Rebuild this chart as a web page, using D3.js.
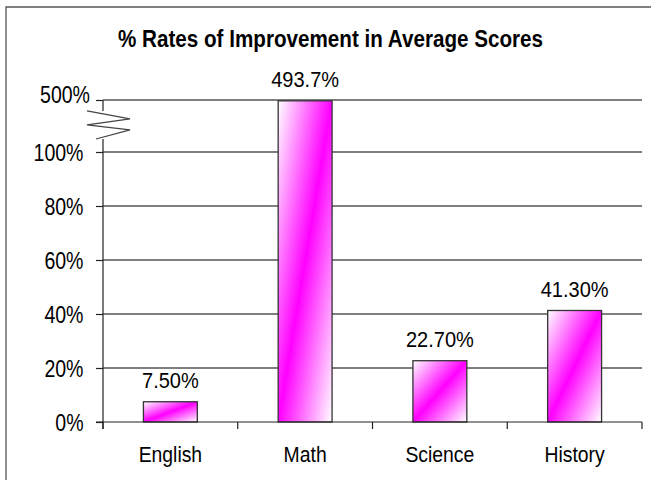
<!DOCTYPE html>
<html>
<head>
<meta charset="utf-8">
<script src="https://cdn.jsdelivr.net/npm/d3@7"></script>
<style>
  html, body { margin: 0; padding: 0; background: #fff; }
  svg { display: block; }
  text { font-family: "Liberation Sans", Arial, sans-serif; fill: #000; }
</style>
</head>
<body>
<svg id="chart" width="651" height="480"></svg>
<script>
// ---- data ----
const categories = ["English", "Math", "Science", "History"];
const values = [7.5, 493.7, 22.7, 41.3];
const valueLabels = ["7.50%", "493.7%", "22.70%", "41.30%"];
const yTicks = [0, 20, 40, 60, 80, 100, 500];
const yTickLabels = ["0%", "20%", "40%", "60%", "80%", "100%", "500%"];
const chartTitle = "% Rates of Improvement in Average Scores";

// ---- layout ----
const W = 651, H = 480;
const plot = { left: 103, right: 642, top: 100, bottom: 422 };
const svg = d3.select("#chart");

// text helper: narrow-looking (condensed) text as in the reference
function placeText(sel, fx, fy, size, sx) {
  return sel.attr("x", 0).attr("y", 0)
    .attr("transform", (d, i) => `translate(${fx(d, i)},${fy(d, i)}) scale(${sx},1)`)
    .style("font-size", size + "px");
}

// gradient fill
const defs = svg.append("defs");
const grad = defs.append("linearGradient").attr("id", "barGrad")
  .attr("x1", 0).attr("y1", 0).attr("x2", 1).attr("y2", 1);
grad.append("stop").attr("offset", "0%").attr("stop-color", "#ffffff");
grad.append("stop").attr("offset", "50%").attr("stop-color", "#ff00ff");
grad.append("stop").attr("offset", "100%").attr("stop-color", "#ffffff");

// outer frame (top & left visible)
svg.append("path").attr("d", `M6,${H} V7 H${W}`)
  .attr("fill", "none").attr("stroke", "#555").attr("stroke-width", 1.3);

// scales: broken axis (0-100 linear, 100-500 compressed)
const y = d3.scaleLinear().domain([0, 100, 500]).range([plot.bottom, 152, plot.top]);
const x = d3.scaleBand().domain(categories).range([plot.left, plot.right])
  .paddingInner(0.6).paddingOuter(0.3);

// title
placeText(svg.append("text").datum(chartTitle).attr("text-anchor", "middle")
  .style("font-weight", "bold"), () => 330.5, () => 46.7, 24, 0.86).text(chartTitle);

// gridlines
svg.append("g").selectAll("line").data(yTicks.filter(d => d > 0)).join("line")
  .attr("x1", plot.left).attr("x2", plot.right)
  .attr("y1", d => y(d)).attr("y2", d => y(d))
  .attr("stroke", "#555").attr("stroke-width", 1.3);

// y axis ticks
const yAxis = d3.axisLeft(y).tickValues(yTicks)
  .tickFormat(() => "").tickSize(7).tickSizeOuter(0);
const gy = svg.append("g").attr("transform", `translate(${plot.left},0)`).call(yAxis);
gy.select(".domain").remove();
gy.selectAll(".tick line").attr("stroke", "#222").attr("stroke-width", 1.2);
gy.selectAll(".tick text").remove();

// y tick labels
placeText(svg.append("g").selectAll("text").data(yTicks).join("text").attr("text-anchor", "end"),
  d => d === 500 ? 90 : 83.5,
  d => d === 500 ? y(d) + 3.3 : y(d) + 9.3,
  23, 0.85).text((d, i) => yTickLabels[i]);

// bars
svg.append("g").selectAll("rect").data(values).join("rect")
  .attr("x", (d, i) => x(categories[i]))
  .attr("width", x.bandwidth())
  .attr("y", d => y(d))
  .attr("height", d => y(0) - y(d))
  .attr("fill", "url(#barGrad)")
  .attr("stroke", "#333").attr("stroke-width", 1.3);

// value labels
placeText(svg.append("g").selectAll("text").data(values).join("text").attr("text-anchor", "middle"),
  (d, i) => x(categories[i]) + x.bandwidth() / 2,
  d => y(d) - 13.5,
  22, 0.91).text((d, i) => valueLabels[i]);

// y axis line with break
const yBreakTop = y(100) - (y(100) - y(500)) * 0.25;
const yBreakBot = y(100) - (y(100) - y(500)) * 0.79;
svg.append("line").attr("x1", plot.left).attr("x2", plot.left)
  .attr("y1", y(500)).attr("y2", yBreakBot).attr("stroke", "#222").attr("stroke-width", 1.2);
svg.append("line").attr("x1", plot.left).attr("x2", plot.left)
  .attr("y1", yBreakTop).attr("y2", plot.bottom + 7).attr("stroke", "#222").attr("stroke-width", 1.2);
const zz = [
  [plot.left - 16, yBreakBot],
  [plot.left + 27, yBreakBot + 8],
  [plot.left - 16, yBreakBot + 14],
  [plot.left + 27, yBreakBot + 19],
  [plot.left - 7, yBreakTop]
];
svg.append("path").attr("d", d3.line()(zz))
  .attr("fill", "none").attr("stroke", "#444").attr("stroke-width", 1.2);

// x axis
svg.append("line").attr("x1", plot.left - 7).attr("x2", plot.right)
  .attr("y1", plot.bottom).attr("y2", plot.bottom)
  .attr("stroke", "#222").attr("stroke-width", 1.2);
const step = x.step();
const boundaries = d3.range(categories.length + 1).map(i => plot.left + i * step);
svg.append("g").selectAll("line").data(boundaries).join("line")
  .attr("x1", d => d).attr("x2", d => d)
  .attr("y1", plot.bottom).attr("y2", plot.bottom + 7)
  .attr("stroke", "#222").attr("stroke-width", 1.2);

// category labels
placeText(svg.append("g").selectAll("text").data(categories).join("text").attr("text-anchor", "middle"),
  d => x(d) + x.bandwidth() / 2,
  () => 462.3,
  22, 0.88).text(d => d);
</script>
</body>
</html>
